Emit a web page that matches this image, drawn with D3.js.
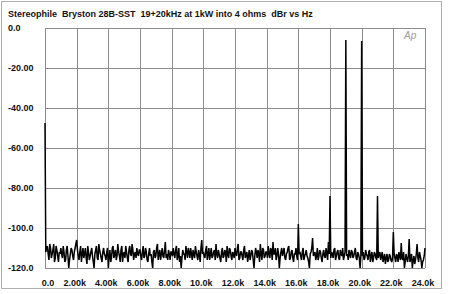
<!DOCTYPE html>
<html>
<head>
<meta charset="utf-8">
<script src="https://cdn.jsdelivr.net/npm/d3@7"></script>
<style>
  html, body { margin: 0; padding: 0; background: #fff; }
  svg { display: block; }
  text { font-family: "Liberation Sans", Arial, Helvetica, sans-serif; }
</style>
</head>
<body>
<div id="chart"></div>
<script>
// ---- data ----
const titleText = "Stereophile  Bryston 28B-SST  19+20kHz at 1kW into 4 ohms  dBr vs Hz";
const yTicks = [0, -20, -40, -60, -80, -100, -120];
const yTickLabels = ["0.0", "-20.00", "-40.00", "-60.00", "-80.00", "-100.0", "-120.0"];
const xTicks = [0, 2000, 4000, 6000, 8000, 10000, 12000, 14000, 16000, 18000, 20000, 22000, 24000];
const xTickLabels = ["0.0", "2.00k", "4.00k", "6.00k", "8.00k", "10.0k", "12.0k", "14.0k", "16.0k", "18.0k", "20.0k", "22.0k", "24.0k"];
const freqStep = 100; // Hz between points
// levels at 0, 100, 200 ... 24000 Hz (dBr)
const levels = [
  -47.5, -110, -113, -108, -115, -111, -117, -109, -114, -112,
  -110, -115, -112, -116, -109, -120, -113, -111, -116, -110,
  -106, -114, -112, -117, -110, -113, -115, -109, -116, -112,
  -114, -120, -111, -115, -108, -113, -117, -110, -114, -112,
  -120, -111, -115, -109, -113, -116, -108, -114, -111, -117,
  -112, -109, -115, -111, -113, -108, -116, -112, -110, -114,
  -111, -116, -109, -114, -112, -117, -110, -113, -120, -111,
  -114, -108, -113, -116, -110, -115, -107, -113, -111, -116,
  -112, -110, -115, -109, -114, -117, -120, -111, -113, -109,
  -115, -112, -110, -116, -113, -109, -114, -111, -117, -106,
  -112, -115, -109, -113, -116, -110, -114, -111, -108, -115,
  -113, -117, -110, -114, -112, -109, -115, -111, -116, -113,
  -110, -114, -108, -115, -112, -116, -109, -113, -117, -111,
  -114, -112, -120, -110, -115, -113, -108, -116, -111, -114,
  -112, -109, -115, -111, -107, -113, -116, -110, -120, -112,
  -114, -110, -116, -112, -109, -115, -111, -117, -113, -114,
  -98, -112, -116, -110, -114, -111, -115, -120, -112, -105,
  -113, -116, -110, -114, -112, -117, -111, -115, -113, -107,
  -84, -112, -115, -110, -114, -111, -116, -113, -110, -114,
  -6, -113, -111, -115, -112, -114, -110, -116, -113, -120,
  -6.5, -112, -115, -113, -116, -111, -114, -117, -112, -115,
  -84, -113, -116, -112, -115, -118, -113, -116, -114, -117,
  -102, -115, -113, -117, -114, -107.5, -116, -120, -113, -117,
  -105.5, -115, -120, -114, -116, -108, -117, -114, -120, -116,
  -110
];
// levels at 50, 150, 250 ... 23950 Hz (dBr)
const midLevels = [
  -112, -109, -116, -110, -113, -108, -115, -111, -117, -113,
  -113, -109, -117, -111, -114, -116, -110, -114, -112, -108,
  -111, -116, -109, -113, -115, -110, -118, -112, -114, -110,
  -117, -113, -109, -116, -111, -115, -112, -113, -116, -110,
  -114, -117, -110, -115, -111, -114, -112, -117, -109, -113,
  -115, -112, -117, -109, -114, -111, -113, -115, -113, -111,
  -114, -112, -115, -110, -116, -113, -114, -117, -112, -115,
  -110, -116, -111, -113, -114, -111, -115, -116, -113, -112,
  -114, -113, -111, -116, -110, -114, -115, -113, -116, -112,
  -110, -115, -113, -111, -115, -112, -116, -113, -110, -113,
  -114, -111, -116, -110, -113, -115, -112, -116, -113, -111,
  -115, -112, -115, -111, -117, -113, -110, -114, -112, -115,
  -113, -110, -116, -112, -114, -111, -115, -112, -114, -116,
  -111, -116, -114, -112, -111, -117, -113, -110, -115, -112,
  -115, -113, -110, -116, -113, -110, -114, -113, -115, -110,
  -112, -115, -113, -110, -116, -112, -115, -113, -110, -116,
  -113, -114, -112, -116, -113, -114, -117, -113, -110, -114,
  -112, -114, -116, -111, -115, -113, -114, -110, -116, -113,
  -115, -113, -111, -116, -112, -115, -111, -114, -116, -112,
  -114, -116, -113, -111, -115, -112, -115, -112, -115, -114,
  -114, -116, -111, -114, -112, -117, -112, -115, -113, -116,
  -115, -112, -114, -117, -113, -115, -117, -113, -116, -115,
  -113, -117, -114, -112, -116, -115, -112, -117, -115, -114,
  -117, -113, -116, -118, -113, -115, -112, -116, -117, -114
];

// ---- layout ----
const W = 450, H = 294;
const plot = { left: 45, right: 425, top: 28, bottom: 268 };

const svg = d3.select("#chart").append("svg")
  .attr("width", W).attr("height", H);

svg.append("rect").attr("x", 0).attr("y", 0).attr("width", W).attr("height", H).attr("fill", "#fff");

// outer frame
svg.append("rect")
  .attr("x", 1.5).attr("y", 1.5).attr("width", 440).attr("height", 287)
  .attr("fill", "none").attr("stroke", "#b0b0b0").attr("stroke-width", 1);

const x = d3.scaleLinear().domain([0, 24000]).range([plot.left, plot.right]);
const y = d3.scaleLinear().domain([-120, 0]).range([plot.bottom, plot.top]);

// grid
const grid = svg.append("g");
grid.selectAll("line.v").data(xTicks).enter().append("line")
  .attr("x1", d => Math.round(x(d)) + 0.5).attr("x2", d => Math.round(x(d)) + 0.5)
  .attr("y1", plot.top).attr("y2", plot.bottom)
  .attr("stroke", "#8c8c8c").attr("stroke-width", 1);
grid.selectAll("line.h").data(yTicks).enter().append("line")
  .attr("y1", d => Math.round(y(d)) + 0.5).attr("y2", d => Math.round(y(d)) + 0.5)
  .attr("x1", plot.left).attr("x2", plot.right)
  .attr("stroke", "#8c8c8c").attr("stroke-width", 1);

// title
svg.append("text")
  .attr("x", 8).attr("y", 17)
  .attr("font-size", 9).attr("font-weight", "bold")
  .style("white-space", "pre")
  .attr("fill", "#111")
  .text(titleText);

// y labels
svg.append("g").selectAll("text").data(yTicks).enter().append("text")
  .attr("x", 8).attr("y", d => y(d))
  .attr("dy", "0.35em")
  .attr("font-size", 9).attr("font-weight", "bold").attr("fill", "#111")
  .text((d, i) => yTickLabels[i]);

// x labels
svg.append("g").selectAll("text").data(xTicks).enter().append("text")
  .attr("x", (d, i) => i === 0 ? x(d) + 3 : x(d) - 2)
  .attr("y", 283).attr("dy", "0.35em")
  .attr("text-anchor", "middle")
  .attr("font-size", 9).attr("font-weight", "bold").attr("fill", "#111")
  .text((d, i) => xTickLabels[i]);

// Ap logo
svg.append("text")
  .attr("x", 404).attr("y", 39)
  .attr("font-size", 10).attr("font-style", "italic")
  .attr("fill", "#9a9a9a")
  .text("Ap");

// trace: interleave both arrays by frequency
const pts = [];
levels.forEach((v, i) => {
  pts.push([i * freqStep, v]);
  if (i < midLevels.length) pts.push([i * freqStep + freqStep / 2, midLevels[i]]);
});
const line = d3.line().x(d => x(d[0])).y(d => y(d[1]));
svg.append("path")
  .datum(pts)
  .attr("d", line)
  .attr("fill", "none")
  .attr("stroke", "#000")
  .attr("stroke-width", 1.5)
  .attr("stroke-linejoin", "miter")
  .attr("stroke-miterlimit", 2);
</script>
</body>
</html>
